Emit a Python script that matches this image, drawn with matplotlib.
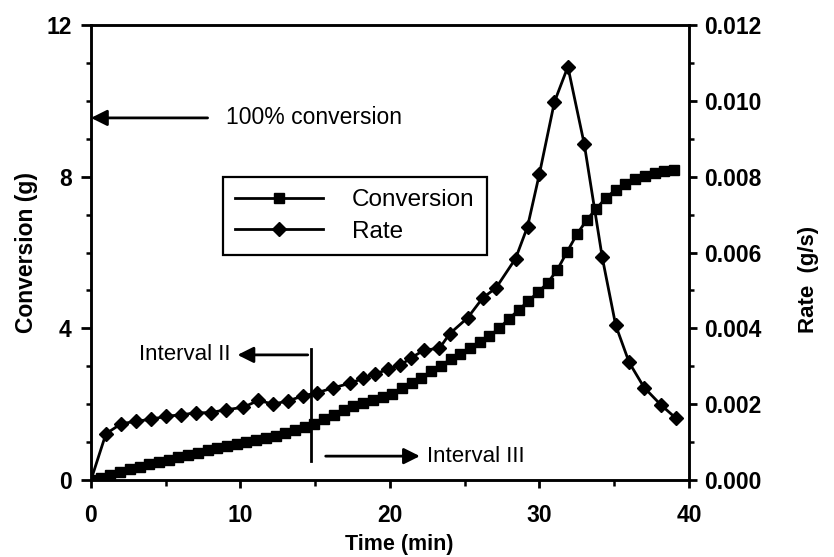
import matplotlib
matplotlib.use('Agg')
import matplotlib.pyplot as plt
from matplotlib.ticker import MultipleLocator, FormatStrFormatter

plt.rcParams['font.family'] = ['Liberation Sans', 'DejaVu Sans']

# conversion (g) vs time (min)
conv_time = [0.0, 0.65, 1.3, 1.95, 2.6, 3.25, 3.9, 4.55, 5.2, 5.85,
             6.5, 7.15, 7.8, 8.45, 9.1, 9.75, 10.4, 11.05, 11.7, 12.35,
             13.0, 13.65, 14.3, 14.95, 15.6, 16.25, 16.9, 17.55, 18.2, 18.85,
             19.5, 20.15, 20.8, 21.45, 22.1, 22.75, 23.4, 24.05, 24.7, 25.35,
             26.0, 26.65, 27.3, 27.95, 28.6, 29.25, 29.9, 30.55, 31.2, 31.85,
             32.5, 33.15, 33.8, 34.45, 35.1, 35.75, 36.4, 37.05, 37.7, 38.35,
             39.0]
conv_g = [0.0, 0.06, 0.13, 0.2, 0.28, 0.35, 0.41, 0.47, 0.53, 0.6,
          0.66, 0.72, 0.78, 0.84, 0.9, 0.96, 1.01, 1.06, 1.11, 1.17,
          1.24, 1.31, 1.39, 1.48, 1.6, 1.72, 1.84, 1.94, 2.03, 2.1,
          2.18, 2.28, 2.42, 2.56, 2.7, 2.87, 3.02, 3.18, 3.33, 3.47,
          3.63, 3.8, 4.0, 4.25, 4.48, 4.72, 4.95, 5.2, 5.55, 6.02,
          6.48, 6.85, 7.16, 7.44, 7.66, 7.82, 7.94, 8.03, 8.1, 8.15,
          8.18]

# polymerization rate (g/s) vs time (min)
rate_time = [0.0, 1.0, 2.0, 3.0, 4.0, 5.0, 6.0, 7.0, 8.0, 9.0,
             10.2, 11.2, 12.2, 13.2, 14.2, 15.1, 16.2, 17.3, 18.2, 19.0,
             19.9, 20.7, 21.4, 22.3, 23.3, 24.0, 25.2, 26.2, 27.1, 28.4,
             29.2, 30.0, 31.0, 31.9, 33.0, 34.2, 35.1, 36.0, 37.0, 38.1,
             39.1]
rate_gs = [0.0, 0.00122, 0.00148, 0.00155, 0.0016, 0.00168, 0.00172, 0.00177, 0.00178, 0.00185,
           0.00192, 0.0021, 0.002, 0.00209, 0.00222, 0.0023, 0.00243, 0.00255, 0.00268, 0.0028,
           0.00292, 0.00303, 0.00322, 0.00343, 0.00347, 0.00386, 0.00428, 0.0048, 0.00507, 0.00584,
           0.00668, 0.00808, 0.00997, 0.0109, 0.00885, 0.00587, 0.00408, 0.0031, 0.00244, 0.00199,
           0.00164]

full_conversion = 9.55
interval_split = 14.7

fig = plt.figure(figsize=(8.34, 5.57), dpi=100)
ax = fig.add_axes([0.1091, 0.1382, 0.717, 0.8169])
ax2 = ax.twinx()

l1, = ax.plot(conv_time, conv_g, '-s', color='k', lw=2, ms=7.5, label='Conversion')
l2, = ax2.plot(rate_time, rate_gs, '-D', color='k', lw=2, ms=7.5, label='Rate')

ax.set_xlim(0, 40)
ax.set_ylim(0, 12)
ax2.set_ylim(0, 0.012)

ax.xaxis.set_major_locator(MultipleLocator(10))
ax.xaxis.set_minor_locator(MultipleLocator(5))
ax.yaxis.set_major_locator(MultipleLocator(4))
ax.yaxis.set_minor_locator(MultipleLocator(1))
ax2.yaxis.set_major_locator(MultipleLocator(0.002))
ax2.yaxis.set_minor_locator(MultipleLocator(0.001))
ax2.yaxis.set_major_formatter(FormatStrFormatter('%.3f'))

for a in (ax, ax2):
    for s in a.spines.values():
        s.set_linewidth(1.8)
ax.tick_params(axis='x', which='major', direction='out', length=6, width=2, pad=11,
               labelsize=16.5, top=False)
ax.tick_params(axis='x', which='minor', direction='out', length=4, width=1.8, top=False)
ax.tick_params(axis='y', which='major', direction='out', length=7, width=2, pad=7, labelsize=16.5)
ax.tick_params(axis='y', which='minor', direction='out', length=3.5, width=1.8)
ax2.tick_params(axis='y', which='major', direction='out', length=6, width=2, pad=5, labelsize=16.5)
ax2.tick_params(axis='y', which='minor', direction='out', length=3.5, width=1.8)
for lab in ax.get_xticklabels() + ax.get_yticklabels() + ax2.get_yticklabels():
    lab.set_fontweight('bold')

ax.set_xlabel('Time (min)', fontsize=15.5, fontweight='bold')
ax.set_ylabel('Conversion (g)', fontsize=16.5, fontweight='bold')
ax2.set_ylabel('Rate  (g/s)', fontsize=16, fontweight='bold')
ax.xaxis.set_label_coords(0.515, -0.118)
ax.yaxis.set_label_coords(-0.088, 0.5)
ax2.yaxis.set_label_coords(1.183, 0.44)

arrow = dict(arrowstyle='-|>', color='k', lw=2, mutation_scale=24, shrinkA=0, shrinkB=0)

# 100% conversion marker
ax.annotate('', xy=(0, full_conversion), xytext=(7.8, full_conversion), arrowprops=arrow)
ax.text(9.0, full_conversion, '100% conversion', fontsize=16.5, va='center', ha='left')

# boundary between interval II and III
ax.plot([interval_split, interval_split], [0.5, 3.45], color='k', lw=2)
ax.annotate('', xy=(9.8, 3.3), xytext=(interval_split - 0.2, 3.3), arrowprops=arrow)
ax.text(9.3, 3.3, 'Interval II', fontsize=16, va='center', ha='right')
ax.annotate('', xy=(22.0, 0.63), xytext=(15.7, 0.63), arrowprops=arrow)
ax.text(22.5, 0.63, 'Interval III', fontsize=16, va='center', ha='left')

leg = ax2.legend(handles=[l1, l2], loc='upper left', bbox_to_anchor=(0.221, 0.666),
                 borderaxespad=0, fontsize=17.5, handlelength=3.6, handletextpad=1.2,
                 labelspacing=0.4, borderpad=0.5, fancybox=False, framealpha=1,
                 edgecolor='k')
leg.get_frame().set_linewidth(1.6)

fig.savefig('out.png', dpi=100)
